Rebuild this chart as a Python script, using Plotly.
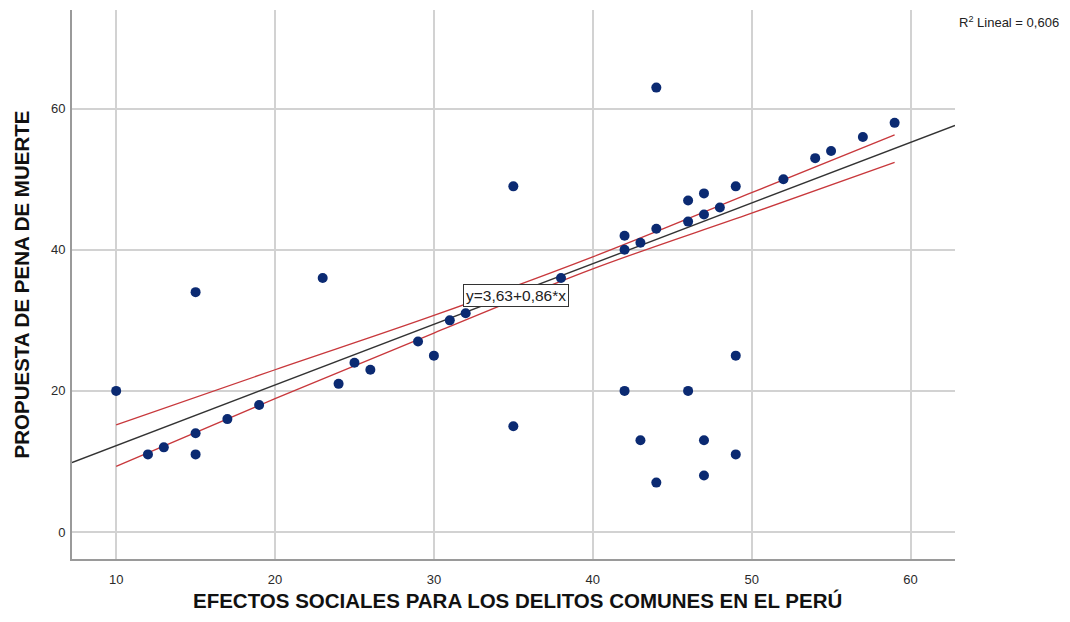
import plotly.graph_objects as go

# Datos (dispersion)
efectos = [10, 12, 13, 15, 15, 15, 17, 19, 23, 24, 25, 26, 29, 30, 31, 32, 38,
           35, 35, 42, 42, 42, 43, 43, 44, 44, 44, 46, 46, 46, 47, 47, 47, 47,
           48, 49, 49, 49, 52, 54, 55, 57, 59]
pena = [20, 11, 12, 34, 14, 11, 16, 18, 36, 21, 24, 23, 27, 25, 30, 31, 36,
        49, 15, 42, 40, 20, 41, 13, 63, 43, 7, 47, 44, 20, 48, 45, 13, 8,
        46, 49, 25, 11, 50, 53, 54, 56, 58]

# Recta de ajuste y = 3,63 + 0,86*x
intercepto = 3.63
pendiente = 0.86
r2 = "0,606"

# Intervalo de confianza de la media (lineas rojas)
ic_x = [10, 20, 30, 40, 50, 59]
ic_sup = [15.2, 23.0, 30.7, 39.0, 48.1, 56.3]
ic_inf = [9.3, 18.9, 28.2, 37.3, 45.2, 52.4]

x_range = [7.22, 62.8]
y_range = [-3.83, 74.0]

fit_x = x_range
fit_y = [intercepto + pendiente * v for v in fit_x]

fig = go.Figure()

fig.add_trace(go.Scatter(x=fit_x, y=fit_y, mode='lines',
                         line=dict(color='#333333', width=1.4), hoverinfo='skip'))
fig.add_trace(go.Scatter(x=ic_x, y=ic_sup, mode='lines',
                         line=dict(color='#c8383c', width=1.3, shape='spline'), hoverinfo='skip'))
fig.add_trace(go.Scatter(x=ic_x, y=ic_inf, mode='lines',
                         line=dict(color='#c8383c', width=1.3, shape='spline'), hoverinfo='skip'))
fig.add_trace(go.Scatter(x=efectos, y=pena, mode='markers',
                         marker=dict(color='#0b2a72', size=10, line=dict(width=0))))

# la pagina tiene 8px de margen en el body: la figura se reduce para caber en 1070x622
fig.update_layout(
    width=1054, height=606,
    margin=dict(l=64, r=107, t=2, b=55),
    plot_bgcolor='white', paper_bgcolor='white',
    showlegend=False,
    font=dict(family='Liberation Sans, Arial, sans-serif', color='#222'),
    xaxis=dict(
        range=x_range, tickvals=[10, 20, 30, 40, 50, 60], automargin=False,
        showgrid=True, gridcolor='#d2d2d2', gridwidth=1.5,
        zeroline=False, showline=True, linecolor='#9a9a9a', linewidth=2,
        ticks='', ticklabelstandoff=7, tickfont=dict(size=13, color='#2a2a2a'),
    ),
    yaxis=dict(
        range=y_range, tickvals=[0, 20, 40, 60], automargin=False,
        showgrid=True, gridcolor='#d2d2d2', gridwidth=1.5,
        zeroline=False, showline=True, linecolor='#9a9a9a', linewidth=2,
        ticks='', ticklabelstandoff=2, tickfont=dict(size=13, color='#2a2a2a'),
        title=dict(text='<b>PROPUESTA DE PENA DE MUERTE</b>',
                   font=dict(size=20.5, color='#111'), standoff=16),
    ),
    annotations=[
        # titulo del eje x como anotacion, pegado al borde inferior de la figura
        dict(x=0.505, y=-0.1, xref='paper', yref='paper', showarrow=False,
             xanchor='center', yanchor='bottom',
             text='<b>EFECTOS SOCIALES PARA LOS DELITOS COMUNES EN EL PERÚ</b>',
             font=dict(size=20.5, color='#111')),
        dict(x=35.17, y=33.5, xref='x', yref='y', showarrow=False,
             text='y=3,63+0,86*x', font=dict(size=15.5, color='#222'),
             bgcolor='white', bordercolor='#333', borderwidth=1, borderpad=2),
        dict(x=1.12, y=0.978, xref='paper', yref='paper', showarrow=False,
             xanchor='right', yanchor='middle',
             text='R<sup>2</sup> Lineal = ' + r2, font=dict(size=13, color='#222')),
    ],
)

fig.write_html("out.html")
